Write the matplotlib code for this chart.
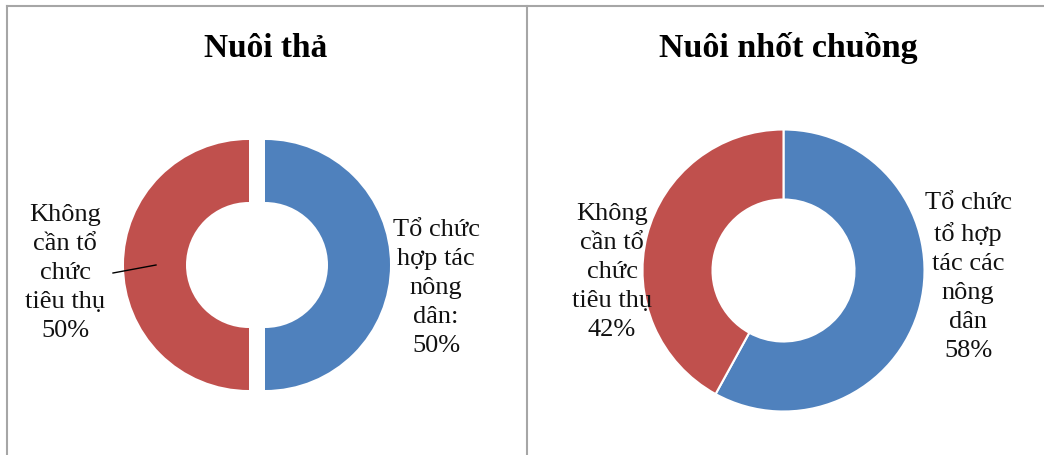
"""
Two doughnut charts: Nuoi tha vs Nuoi nhot chuong
"""

import matplotlib.pyplot as plt
from matplotlib.lines import Line2D

plt.rcParams['font.family'] = ['Liberation Serif', 'DejaVu Serif']

# data
titles = ['Nuôi thả', 'Nuôi nhốt chuồng']
left_values = [50, 50]
right_values = [58, 42]
left_labels = ['Tổ chức\nhợp tác\nnông\ndân:\n50%',
               'Không\ncần tổ\nchức\ntiêu thụ\n50%']
right_labels = ['Tổ chức\ntổ hợp\ntác các\nnông\ndân\n58%',
                'Không\ncần tổ\nchức\ntiêu thụ\n42%']
colors = ['#4F81BD', '#C0504D']

W, H = 1044, 456
fig = plt.figure(figsize=(W / 100, H / 100), dpi=100)
ax = fig.add_axes([0, 0, 1, 1])
ax.set_xlim(0, W)
ax.set_ylim(0, H)
ax.set_aspect('equal')
ax.axis('off')

# left doughnut, both halves pulled apart (explode is in data units here)
ax.pie(left_values, colors=colors, startangle=90, counterclock=False,
       center=(257, H - 266), radius=125, explode=[8, 8],
       wedgeprops=dict(width=62, edgecolor='none'))
# right doughnut
ax.pie(right_values, colors=colors, startangle=90, counterclock=False,
       center=(783.5, H - 271.5), radius=141,
       wedgeprops=dict(width=70, edgecolor='white', linewidth=1.5))

ax.set_xlim(0, W)
ax.set_ylim(0, H)

tkw = dict(ha='center', va='center', fontsize=19, linespacing=1.41, color='#111111')
ax.text(436, H - 288, left_labels[0], **tkw)
ax.text(65, H - 273, left_labels[1], **tkw)
ax.text(968, H - 277, right_labels[0], **tkw)
ax.text(612, H - 272, right_labels[1], **tkw)

# leader line of the left label
ax.plot([113, 156], [H - 274, H - 266], color='black', lw=1)

ax.text(266, H - 48, titles[0], ha='center', va='center', fontsize=24,
        fontweight='bold')
ax.text(788, H - 48, titles[1], ha='center', va='center', fontsize=24.5,
        fontweight='bold')

# cell borders
for xs, ys in [([7, W], [H - 7, H - 7]), ([7, 7], [0, H - 7]),
               ([527, 527], [0, H - 7])]:
    fig.add_artist(Line2D([x / W for x in xs], [y / H for y in ys],
                          color='#A6A6A6', lw=1.5))

fig.savefig('out.png', dpi=100)
